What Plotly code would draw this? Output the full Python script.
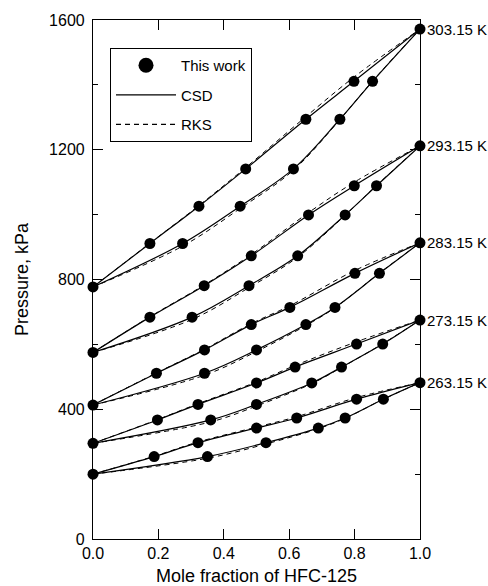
import plotly.graph_objects as go

# ---- data ----
temps = ["263.15 K", "273.15 K", "283.15 K", "293.15 K", "303.15 K"]

# pure-component end points (x=0, x=1), kPa
p_start = [200, 295, 413, 575, 777]
p_end = [482, 675, 913, 1212, 1572]

# measured pressures and liquid (x) / vapour (y) compositions
p_263 = [254, 297, 342, 373, 431]
x_263 = [0.187, 0.321, 0.500, 0.623, 0.806]
y_263 = [0.350, 0.529, 0.689, 0.771, 0.888]

p_273 = [367, 415, 481, 530, 601]
x_273 = [0.197, 0.321, 0.500, 0.618, 0.806]
y_273 = [0.360, 0.500, 0.669, 0.760, 0.886]

p_283 = [511, 583, 661, 714, 819]
x_283 = [0.194, 0.341, 0.484, 0.602, 0.801]
y_283 = [0.341, 0.500, 0.651, 0.740, 0.876]

p_293 = [684, 781, 873, 999, 1089]
x_293 = [0.174, 0.340, 0.484, 0.659, 0.799]
y_293 = [0.303, 0.477, 0.626, 0.771, 0.867]

p_303 = [911, 1026, 1141, 1294, 1411]
x_303 = [0.174, 0.324, 0.467, 0.651, 0.798]
y_303 = [0.274, 0.450, 0.613, 0.755, 0.855]

# RKS model curves (same abscissae as the data)
rks_bub_263 = [255, 299, 345, 377, 436]
rks_dew_263 = [249, 293, 340, 372, 431]
rks_bub_273 = [368, 417, 484, 535, 608]
rks_dew_273 = [361, 410, 479, 529, 602]
rks_bub_283 = [512, 585, 664, 719, 828]
rks_dew_283 = [505, 578, 658, 713, 820]
rks_bub_293 = [685, 783, 877, 1006, 1100]
rks_dew_293 = [677, 775, 869, 998, 1090]
rks_bub_303 = [912, 1028, 1145, 1302, 1424]
rks_dew_303 = [903, 1019, 1137, 1293, 1412]

sets = [
    (p_263, x_263, y_263, rks_bub_263, rks_dew_263),
    (p_273, x_273, y_273, rks_bub_273, rks_dew_273),
    (p_283, x_283, y_283, rks_bub_283, rks_dew_283),
    (p_293, x_293, y_293, rks_bub_293, rks_dew_293),
    (p_303, x_303, y_303, rks_bub_303, rks_dew_303),
]

FONT = "Liberation Sans, Arial, sans-serif"
fig = go.Figure()

for i, (p, xl, yv, rb, rd) in enumerate(sets):
    p0, p1 = p_start[i], p_end[i]
    # RKS dashed
    fig.add_trace(go.Scatter(x=[0] + xl + [1], y=[p0] + rb + [p1], mode="lines",
                             line=dict(color="black", width=1, dash="5px,4px", shape="spline"),
                             showlegend=False, hoverinfo="skip"))
    fig.add_trace(go.Scatter(x=[0] + yv + [1], y=[p0] + rd + [p1], mode="lines",
                             line=dict(color="black", width=1, dash="5px,4px", shape="spline"),
                             showlegend=False, hoverinfo="skip"))
    # CSD solid
    fig.add_trace(go.Scatter(x=[0] + xl + [1], y=[p0] + p + [p1], mode="lines",
                             line=dict(color="black", width=1.2, shape="spline"),
                             showlegend=False, hoverinfo="skip"))
    fig.add_trace(go.Scatter(x=[0] + yv + [1], y=[p0] + p + [p1], mode="lines",
                             line=dict(color="black", width=1.2, shape="spline"),
                             showlegend=False, hoverinfo="skip"))
    # data points
    fig.add_trace(go.Scatter(x=[0] + xl + yv + [1], y=[p0] + p + p + [p1], mode="markers",
                             marker=dict(color="black", size=11), cliponaxis=False,
                             showlegend=False))
    fig.add_annotation(x=1, y=p1, text=temps[i], showarrow=False, xanchor="left",
                       xshift=5, yanchor="middle",
                       font=dict(family=FONT, size=15, color="black"))

# legend entries
fig.add_trace(go.Scatter(x=[None], y=[None], mode="markers", name="This work",
                         marker=dict(color="black", size=15), legendgroup="a"))
fig.add_trace(go.Scatter(x=[None], y=[None], mode="lines", name="CSD",
                         line=dict(color="black", width=1.2), legendgroup="b"))
fig.add_trace(go.Scatter(x=[None], y=[None], mode="lines", name="RKS",
                         line=dict(color="black", width=1.2, dash="5px,4px"), legendgroup="c"))

axis_common = dict(showline=True, linecolor="black", linewidth=1.2, mirror="ticks",
                   ticks="inside", ticklen=10, tickwidth=1.2, tickcolor="black",
                   showgrid=False, zeroline=False, automargin=False,
                   tickfont=dict(family=FONT, size=16, color="black"))

fig.update_xaxes(range=[0, 1], dtick=0.2, tickformat=".1f",
                 title=dict(text="Mole fraction of HFC-125",
                            font=dict(family=FONT, size=18, color="black")),
                 **axis_common)
fig.update_yaxes(range=[0, 1600], dtick=400,
                 minor=dict(ticks="inside", ticklen=5, dtick=200, tickcolor="black", tickwidth=1.2),
                 title=dict(text="Pressure, kPa",
                            font=dict(family=FONT, size=18, color="black")),
                 ticklabelstandoff=4,
                 **axis_common)

fig.update_layout(
    width=488, height=586,
    margin=dict(l=93, r=68, t=20, b=47),
    paper_bgcolor="white", plot_bgcolor="white",
    font=dict(family=FONT, color="black"),
    legend=dict(x=0.052, y=0.946, xanchor="left", yanchor="top",
                bgcolor="white", bordercolor="black", borderwidth=1,
                font=dict(family=FONT, size=15, color="black"),
                tracegroupgap=7, itemwidth=60),
)

fig.write_html("out.html")
